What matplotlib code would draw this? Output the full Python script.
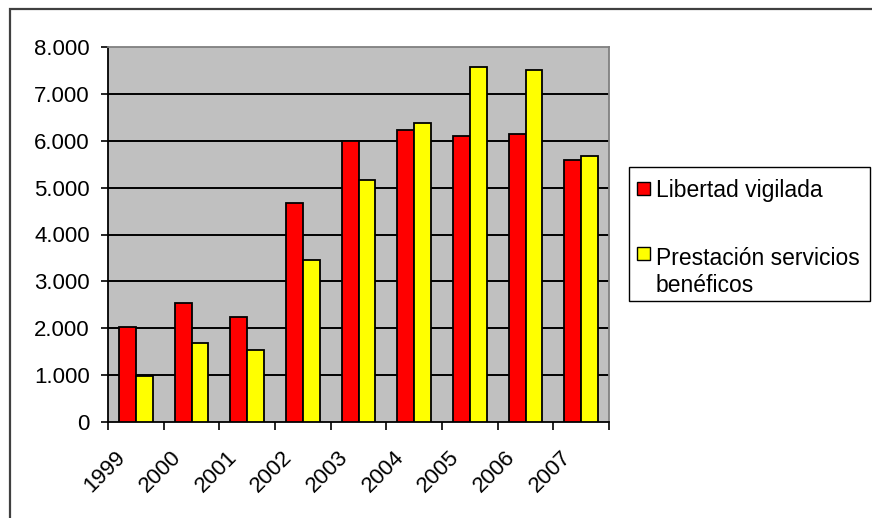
import numpy as np
import matplotlib
matplotlib.use("Agg")
import matplotlib.pyplot as plt
import matplotlib.transforms as mtransforms
from matplotlib.lines import Line2D
from matplotlib.patches import Rectangle
from matplotlib.ticker import FuncFormatter, MultipleLocator

# data
years = ["1999", "2000", "2001", "2002", "2003", "2004", "2005", "2006", "2007"]
libertad = [2030, 2540, 2250, 4680, 6000, 6220, 6100, 6150, 5600]
prestacion = [990, 1680, 1530, 3450, 5170, 6380, 7570, 7500, 5680]
series_names = ["Libertad vigilada", "Prestación servicios\nbenéficos"]
series_colors = ["#FF0000", "#FFFF00"]

plt.rcParams["font.family"] = ["Liberation Sans", "DejaVu Sans"]
FS = 16

W, H = 872, 518
fig = plt.figure(figsize=(W / 100, H / 100), dpi=100)
fig.patch.set_facecolor("white")

# axes placement in pixels: x 108..609, y 47..422
ax = fig.add_axes([108 / W, 1 - 422 / H, (609 - 108) / W, (422 - 47) / H])
ax.set_facecolor("#C0C0C0")

x = np.arange(len(years))
bw = 0.3
ax.bar(x - bw / 2, libertad, width=bw, color=series_colors[0],
       edgecolor="black", linewidth=1.3, zorder=3)
ax.bar(x + bw / 2, prestacion, width=bw, color=series_colors[1],
       edgecolor="black", linewidth=1.3, zorder=3)

ax.set_xlim(-0.5, len(years) - 0.5)
ax.set_ylim(0, 8000)

# y axis
ax.yaxis.set_major_locator(MultipleLocator(1000))
ax.yaxis.set_major_formatter(FuncFormatter(lambda v, p: f"{int(v):,}".replace(",", ".")))
ax.tick_params(axis="y", direction="out", length=5, width=1.2, pad=8,
               labelsize=FS, colors="black")
for yv in range(1000, 8000, 1000):
    ax.axhline(yv, color="black", linewidth=1.4, zorder=1)

# x axis: ticks on category boundaries, labels at centres
ax.set_xticks(np.arange(-0.5, len(years), 1.0))
ax.set_xticklabels([])
ax.tick_params(axis="x", which="major", direction="out", length=6, width=1.2)
ax.set_xticks(x, years, minor=True)
ax.tick_params(axis="x", which="minor", length=0, pad=18, labelsize=FS)
shift = mtransforms.ScaledTranslation(-0.06, 0, fig.dpi_scale_trans)
for lbl in ax.get_xticklabels(minor=True):
    lbl.set_rotation(45)
    lbl.set_ha("right")
    lbl.set_va("top")
    lbl.set_transform(lbl.get_transform() + shift)

for side in ["top", "right"]:
    ax.spines[side].set_color("#808080")
    ax.spines[side].set_linewidth(1.3)
for side in ["left", "bottom"]:
    ax.spines[side].set_color("black")
    ax.spines[side].set_linewidth(1.3)


def px(xp, yp):
    return xp / W, 1 - yp / H


# outer chart border (runs off the right and bottom edges like the screenshot)
xa, ya = px(10, 9)
fig.add_artist(Line2D([1.05, xa, xa], [ya, ya, -0.05], transform=fig.transFigure,
                      color="#404040", linewidth=1.6, solid_joinstyle="miter"))

# legend drawn by hand so the key sits beside the first line of text
lx, ly = px(629, 301)
fig.add_artist(Rectangle((lx, ly), (870 - 629) / W, (301 - 167) / H,
                         transform=fig.transFigure, fill=False,
                         edgecolor="black", linewidth=1.0))
key_tops = [182, 247]
text_y = [188, 253]
for name, col, kt, ty in zip(series_names, series_colors, key_tops, text_y):
    kx, ky = px(637, kt + 13)
    fig.add_artist(Rectangle((kx, ky), 13 / W, 13 / H, transform=fig.transFigure,
                             facecolor=col, edgecolor="black", linewidth=1.0))
    tx, tyf = px(656, ty)
    if "\n" in name:
        fig.text(tx, tyf + 6 / H, name, fontsize=16.5, ha="left", va="top",
                 linespacing=1.25)
    else:
        fig.text(tx, tyf, name, fontsize=16.5, ha="left", va="center_baseline")

fig.savefig("out.png", dpi=100)
